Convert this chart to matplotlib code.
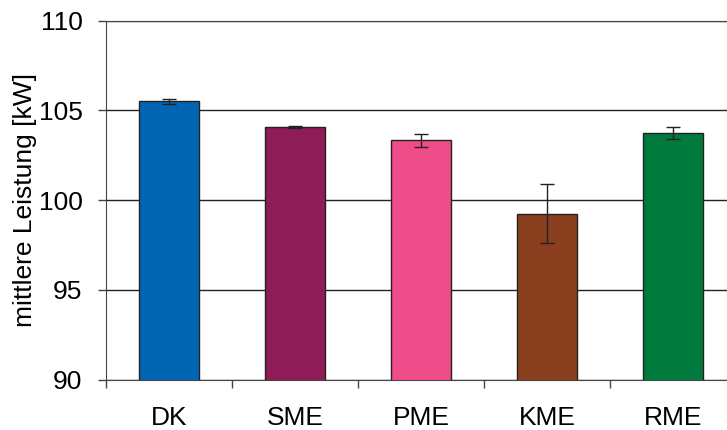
import numpy as np
import matplotlib.pyplot as plt

plt.rcParams['font.family'] = ['Liberation Sans', 'DejaVu Sans']

# data
fuels = ['DK', 'SME', 'PME', 'KME', 'RME']
power = [105.5, 104.07, 103.33, 99.24, 103.73]
err = [0.15, 0.05, 0.37, 1.66, 0.33]
colors = ['#0066b3', '#8e1c56', '#ef4d8a', '#8a3f1f', '#007a3d']

fig = plt.figure(figsize=(7.27, 4.3), dpi=100)
ax = fig.add_axes([106/727, (430-379.5)/430, 630/727, 359/430])

x = np.arange(len(fuels))
ax.bar(x, power, width=0.476, color=colors, edgecolor='#222222', linewidth=1, zorder=3)
ax.errorbar(x, power, yerr=err, fmt='none', ecolor='#222222', elinewidth=1,
            capsize=5, capthick=1, zorder=4)

ax.set_ylim(90, 110)
ax.set_xlim(-0.5, len(fuels) - 0.5)
ax.set_yticks([90, 95, 100, 105, 110])
ax.yaxis.grid(True, color='#222222', linewidth=1)
ax.set_axisbelow(True)

ax.set_xticks(x)
ax.set_xticklabels(fuels)
ax.set_xticks(np.arange(-0.5, len(fuels), 1), minor=True)
ax.tick_params(axis='x', which='major', length=0, pad=19, labelsize=19)
ax.tick_params(axis='x', which='minor', length=6, width=1, color='#444444')
ax.tick_params(axis='y', length=6, width=1, labelsize=19, pad=11, color='#444444')

for s in ['left', 'bottom', 'top']:
    ax.spines[s].set_color('#444444')
ax.spines['right'].set_visible(False)

ax.set_ylabel('mittlere Leistung [kW]', fontsize=19, labelpad=1)

fig.savefig('out.png', dpi=100)
